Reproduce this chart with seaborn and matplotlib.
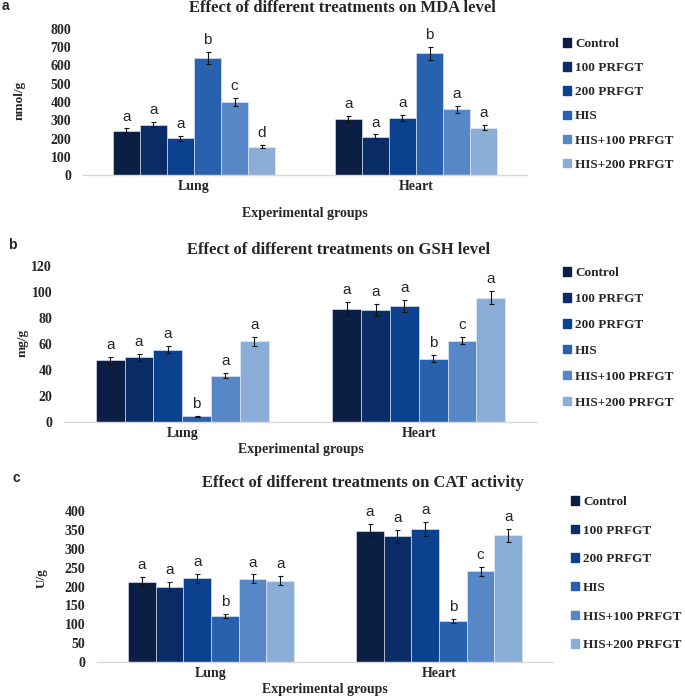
import numpy as np
import pandas as pd
import matplotlib
matplotlib.use('Agg')
import matplotlib.pyplot as plt
import seaborn as sns

# Data
groups = ['Lung', 'Heart']
treatments = ['Control', '100 PRFGT', '200 PRFGT', 'HIS', 'HIS+100 PRFGT', 'HIS+200 PRFGT']

mda_lung = [243, 276, 201, 641, 400, 155]
mda_heart = [307, 210, 314, 667, 360, 260]
mda_err_lung = [12, 14, 12, 33, 20, 8]
mda_err_heart = [15, 12, 17, 35, 18, 14]
mda_letters_lung = ['a', 'a', 'a', 'b', 'c', 'd']
mda_letters_heart = ['a', 'a', 'a', 'b', 'a', 'a']

gsh_lung = [47.2, 49.5, 55.6, 4.1, 35.6, 62.0]
gsh_heart = [87.2, 85.9, 89.2, 48.5, 62.5, 95.5]
gsh_err_lung = [2.8, 2.7, 3.0, 0.5, 1.8, 3.3]
gsh_err_heart = [4.8, 4.7, 4.8, 2.7, 3.0, 5.0]
gsh_letters_lung = ['a', 'a', 'a', 'b', 'a', 'a']
gsh_letters_heart = ['a', 'a', 'a', 'b', 'c', 'a']

cat_lung = [213, 200, 222, 122, 220, 215]
cat_heart = [348, 333, 352, 108, 240, 336]
cat_err_lung = [12, 11, 12, 6, 12, 12]
cat_err_heart = [17, 17, 18, 6, 12, 17]
cat_letters_lung = ['a', 'a', 'a', 'b', 'a', 'a']
cat_letters_heart = ['a', 'a', 'a', 'b', 'c', 'a']

colors = ['#0b1f45', '#0a2d68', '#0b418f', '#2861ae', '#5787c6', '#8aaed7']

W, H = 685, 697
fig = plt.figure(figsize=(W / 100, H / 100), dpi=100)
sns.set_style('white')
serif = ['Liberation Serif', 'DejaVu Serif']
sans = ['Liberation Sans', 'DejaVu Sans']


def px_axes(left, right, top, bottom):
    return fig.add_axes([left / W, 1 - bottom / H, (right - left) / W, (bottom - top) / H])


def panel(box, lung, heart, err_l, err_h, let_l, let_h, ymax, ystep,
          title, ylab, tag, title_y, tag_xy, ylab_xy, xlab_y, leg_xy, leg_space):
    ax = px_axes(*box)
    df = pd.DataFrame({
        'group': np.repeat(groups, len(treatments)),
        'treatment': treatments * 2,
        'value': list(lung) + list(heart),
    })
    sns.barplot(data=df, x='group', y='value', hue='treatment', order=groups,
                hue_order=treatments, palette=colors, width=0.73, errorbar=None,
                edgecolor='#e8eef6', linewidth=0.4, saturation=1, ax=ax, legend=False)
    errs = [err_l, err_h]
    lets = [let_l, let_h]
    bar_sets = list(ax.containers)
    for k, cont in enumerate(bar_sets):
        for g, bar in enumerate(cont.patches):
            xc = bar.get_x() + bar.get_width() / 2
            h = bar.get_height()
            e = errs[g][k]
            ax.errorbar(xc, h, yerr=e, fmt='none', ecolor='#111111', elinewidth=0.8,
                        capsize=1.8, capthick=0.8)
            ax.annotate(lets[g][k], (xc, h + e), xytext=(0, 3.5), textcoords='offset points',
                        ha='center', va='bottom', fontsize=11, family=sans)
    ax.set_xlim(-0.5, 1.5)
    ax.set_ylim(0, ymax)
    ax.set_yticks(np.arange(0, ymax + ystep / 2, ystep))
    ax.set_xlabel('')
    ax.set_ylabel('')
    for s in ['top', 'right', 'left']:
        ax.spines[s].set_visible(False)
    ax.spines['bottom'].set_color('#d9d9d9')
    ax.spines['bottom'].set_linewidth(1.0)
    ax.tick_params(axis='y', length=0, pad=8.5)
    ax.tick_params(axis='x', length=0, pad=3.5)
    for t in ax.get_xticklabels() + ax.get_yticklabels():
        t.set_fontfamily(serif)
        t.set_fontweight('bold')
        t.set_fontsize(10)
    cx = (box[0] + box[1]) / 2
    fig.text(cx / W + 0.055, 1 - title_y / H, title, ha='center', va='center',
             fontsize=12, fontweight='bold', family=serif)
    fig.text(tag_xy[0] / W, 1 - tag_xy[1] / H, tag, ha='left', va='center',
             fontsize=10, fontweight='bold', family=sans)
    fig.text(ylab_xy[0] / W, 1 - ylab_xy[1] / H, ylab, ha='center', va='center',
             rotation=90, fontsize=9.5, fontweight='bold', family=serif)
    fig.text(cx / W, 1 - xlab_y / H, 'Experimental groups', ha='center', va='center',
             fontsize=10, fontweight='bold', family=serif)
    handles = [plt.Rectangle((0, 0), 1, 1, color=c) for c in colors]
    fig.legend(handles, treatments, loc='upper left',
               bbox_to_anchor=(leg_xy[0] / W, 1 - leg_xy[1] / H), frameon=False,
               borderaxespad=0, borderpad=0, handlelength=0.6, handleheight=0.6,
               handletextpad=0.3, labelspacing=leg_space,
               prop={'family': serif, 'weight': 'bold', 'size': 9.5})
    return ax


panel((83, 527, 29, 175), mda_lung, mda_heart, mda_err_lung, mda_err_heart,
      mda_letters_lung, mda_letters_heart, 800, 100,
      'Effect of different treatments on MDA level', 'nmol/g', 'a',
      8, (2, 6), (20, 100), 213, (563, 38), 0.92)
panel((64, 537, 266, 421.7), gsh_lung, gsh_heart, gsh_err_lung, gsh_err_heart,
      gsh_letters_lung, gsh_letters_heart, 120, 20,
      'Effect of different treatments on GSH level', 'mg/g', 'b',
      250, (8, 245), (23, 343), 450, (563, 267), 1.06)
panel((97, 553, 511, 662), cat_lung, cat_heart, cat_err_lung, cat_err_heart,
      cat_letters_lung, cat_letters_heart, 400, 50,
      'Effect of different treatments on CAT activity', 'U/g', 'c',
      483, (12, 478), (42, 578), 690, (571, 496), 1.26)

fig.savefig('out.png', dpi=100)
